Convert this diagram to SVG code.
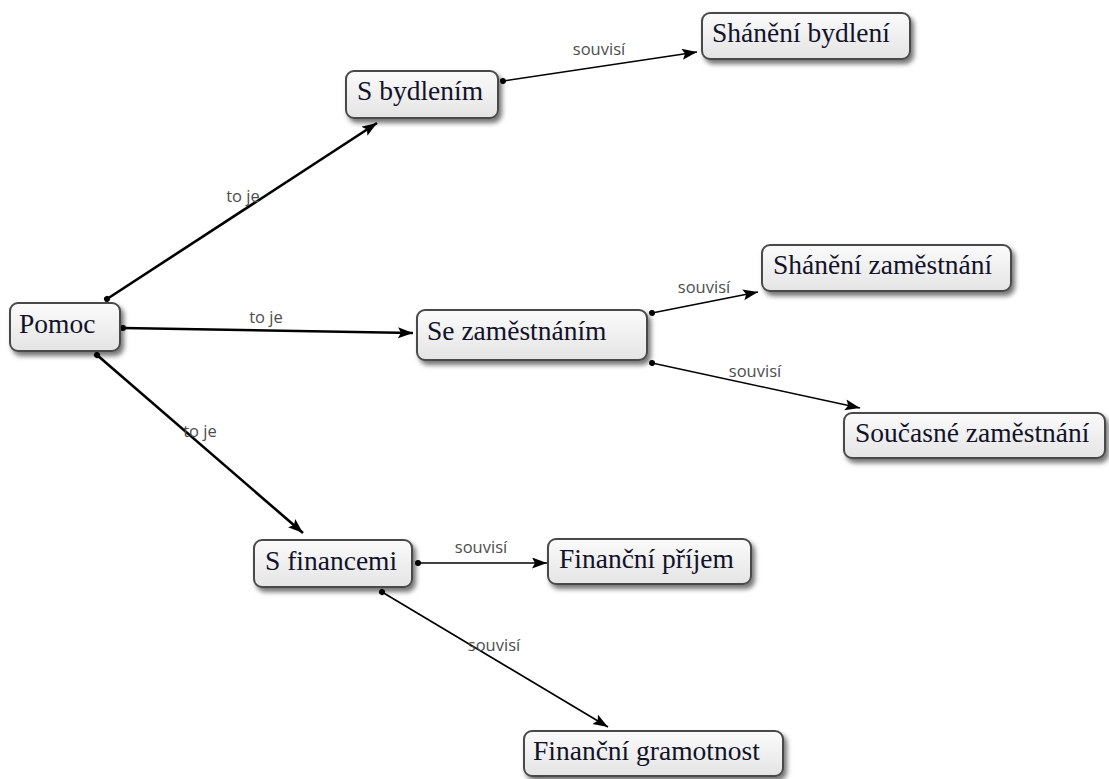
<svg xmlns="http://www.w3.org/2000/svg" width="1109" height="779" viewBox="0 0 1109 779">
<defs>
<linearGradient id="nodeFill" x1="0" y1="0" x2="0" y2="1">
<stop offset="0" stop-color="#fbfbfb"/>
<stop offset="1" stop-color="#e4e4e4"/>
</linearGradient>
<filter id="shadow" x="-10%" y="-20%" width="130%" height="160%">
<feDropShadow dx="3" dy="4" stdDeviation="2.5" flood-color="#000" flood-opacity="0.55"/>
</filter>
<marker id="arrow" markerUnits="userSpaceOnUse" markerWidth="16" markerHeight="12" refX="15" refY="5.5" orient="auto">
<path d="M0,0 L15,5.5 L0,11 L3,5.5 Z" fill="#000"/>
</marker>
<marker id="dot" markerUnits="userSpaceOnUse" markerWidth="8" markerHeight="8" refX="4" refY="4" orient="auto">
<circle cx="4" cy="4" r="3" fill="#000"/>
</marker>
</defs>
<style>
.node rect{fill:url(#nodeFill);stroke:#4a4a4a;stroke-width:2;filter:url(#shadow)}
.node text{font-family:"Liberation Serif","Times New Roman",serif;font-size:27.5px;fill:#12122a}
.conn path{fill:none;stroke:#000;marker-start:url(#dot);marker-end:url(#arrow)}
.thick{stroke-width:2.6}
.thin{stroke-width:1.6}
.lbl{font-family:"Open Sans","DejaVu Sans",sans-serif;font-size:16.5px;fill:#4d4d4d;text-anchor:middle}
</style>
<rect width="1109" height="779" fill="#fff"/>
<g id="connectors" class="conn">
<path class="thick" d="M107,299 L377,123"/>
<path class="thick" d="M123,328 L413,333"/>
<path class="thick" d="M97,355 L303,533"/>
<path class="thin" d="M503,81 L697,52"/>
<path class="thin" d="M652,313 L758,292"/>
<path class="thin" d="M652,363 L860,408"/>
<path class="thin" d="M418,563 L547,563"/>
<path class="thin" d="M382,592 L608,727"/>
</g>
<g id="labels">
<text class="lbl" x="243" y="202">to je</text>
<text class="lbl" x="266" y="323">to je</text>
<text class="lbl" x="200" y="437">to je</text>
<text class="lbl" x="599" y="55">souvisí</text>
<text class="lbl" x="704" y="293">souvisí</text>
<text class="lbl" x="755" y="377">souvisí</text>
<text class="lbl" x="481" y="553">souvisí</text>
<text class="lbl" x="494" y="651">souvisí</text>
</g>
<g id="node-pomoc" class="node">
<rect x="10" y="303" width="110" height="48" rx="8"/>
<text x="19" y="333">Pomoc</text>
</g>
<g id="node-s-bydlenim" class="node">
<rect x="346" y="71" width="152" height="47" rx="8"/>
<text x="357" y="100">S bydlením</text>
</g>
<g id="node-shaneni-bydleni" class="node">
<rect x="702" y="13" width="208" height="46" rx="8"/>
<text x="712" y="42">Shánění bydlení</text>
</g>
<g id="node-se-zamestnanim" class="node">
<rect x="417" y="310" width="230" height="50" rx="8"/>
<text x="427" y="340">Se zaměstnáním</text>
</g>
<g id="node-shaneni-zamestnani" class="node">
<rect x="762" y="245" width="249" height="46" rx="8"/>
<text x="773" y="274">Shánění zaměstnání</text>
</g>
<g id="node-soucasne-zamestnani" class="node">
<rect x="844" y="413" width="261" height="45" rx="8"/>
<text x="855" y="442">Současné zaměstnání</text>
</g>
<g id="node-s-financemi" class="node">
<rect x="254" y="540" width="158" height="47" rx="8"/>
<text x="265" y="570">S financemi</text>
</g>
<g id="node-financni-prijem" class="node">
<rect x="548" y="539" width="203" height="45" rx="8"/>
<text x="559" y="568">Finanční příjem</text>
</g>
<g id="node-financni-gramotnost" class="node">
<rect x="524" y="731" width="259" height="45" rx="8"/>
<text x="533" y="760">Finanční gramotnost</text>
</g>
</svg>
